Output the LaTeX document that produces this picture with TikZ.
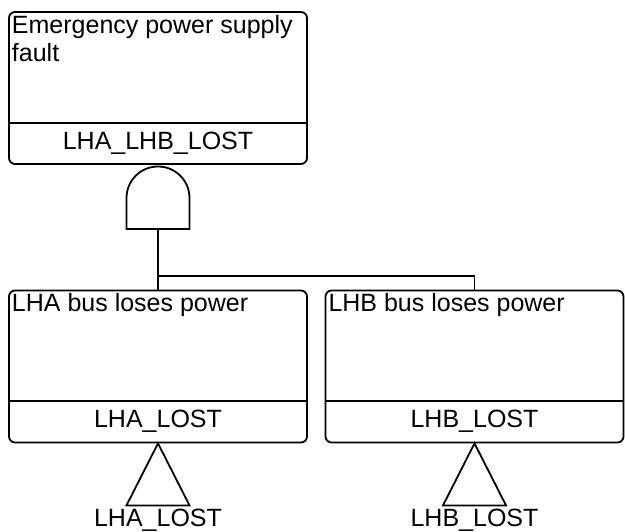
\documentclass[tikz,border=0pt]{standalone}
\usepackage{fontspec}
\setmainfont{Liberation Sans}
\usetikzlibrary{positioning,calc}

\begin{document}
\begin{tikzpicture}[x=1pt,y=-1pt,line width=1.8pt,font=\fontsize{25}{28}\selectfont]
	\useasboundingbox (0,0) rectangle (625,532);
	\tikzset{evbox/.style={draw,rounded corners=6pt,minimum width=298pt,minimum height=152pt,inner sep=0pt}}
	\tikzset{evtitle/.style={anchor=north west,align=left,inner sep=3pt}}
	\tikzset{evid/.style={inner sep=0pt}}
	\node[evbox] (top) at (158,88)  {};
	\node[evbox] (lha) at (158,366.5) {};
	\node[evbox] (lhb) at (474.5,366.5) {};
	\node[evtitle] (topT) at (top.north west) {Emergency power supply\\fault};
	\node[evtitle] (lhaT) at (lha.north west) {LHA bus loses power};
	\node[evtitle] (lhbT) at (lhb.north west) {LHB bus loses power};
	\foreach \b in {top,lha,lhb}
		\draw ([yshift=42pt]\b.south west) -- ([yshift=42pt]\b.south east);
	\node[evid] (topI) at ([yshift=22pt]top.south) {LHA\_LHB\_LOST};
	\node[evid] (lhaI) at ([yshift=22pt]lha.south) {LHA\_LOST};
	\node[evid] (lhbI) at ([yshift=22pt]lhb.south) {LHB\_LOST};
	
	% AND gate
	\coordinate (andg) at (158,229);
	\draw (andg) -- ++(-31.5,0) -- ++(0,-31) arc[start angle=180,end angle=0,radius=31.5pt] -- ++(0,31) -- cycle;
	\coordinate (bus) at (158,276);
	\draw (andg) -- (lha.north);
	\draw (bus) -| (lhb.north);
	
	% transfer triangles
	\foreach \b/\t in {lha/LHA\_LOST,lhb/LHB\_LOST}{
		\draw (\b.south) -- ++(-31.5,62) -- ++(63,0) -- cycle;
		\node[anchor=north,inner sep=2.5pt] (\b X) at ([yshift=-62pt]\b.south) {\t};
	}
\end{tikzpicture}
\end{document}
